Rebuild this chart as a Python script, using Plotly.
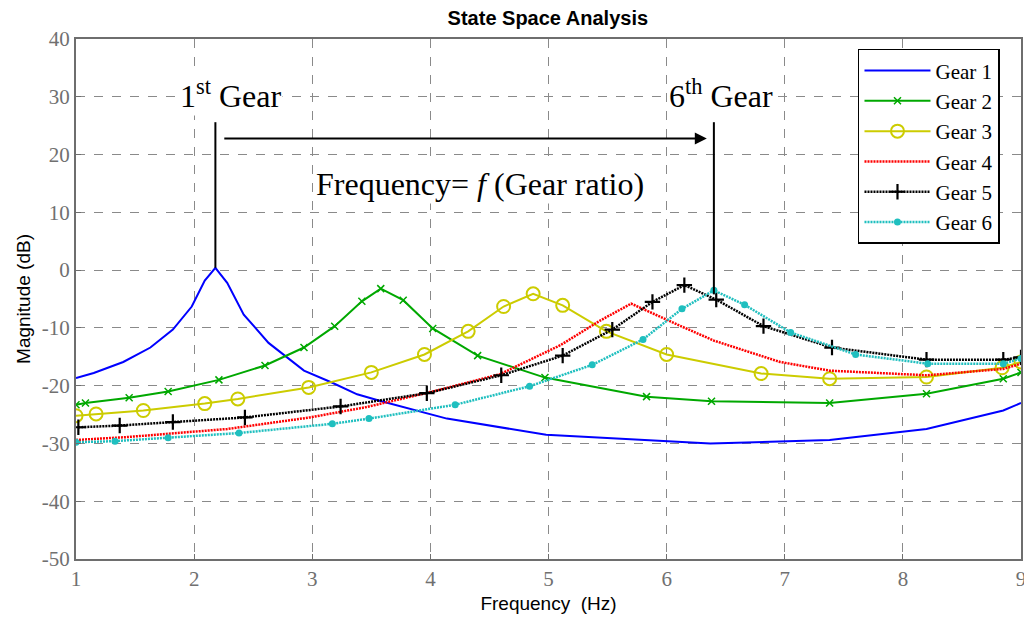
import plotly.graph_objects as go
import numpy as np

# ---- data ----
g1_x = [1.00, 1.15, 1.40, 1.63, 1.82, 1.98, 2.09, 2.18, 2.28, 2.42, 2.63, 2.93, 3.17, 3.38, 3.57, 4.14, 4.98, 5.97, 6.37, 7.38, 8.20, 8.85, 9.00]
g1_y = [-18.7, -17.8, -15.9, -13.4, -10.3, -6.3, -1.8, 0.4, -2.2, -7.7, -12.6, -17.4, -19.5, -21.5, -22.6, -25.7, -28.5, -29.5, -30.0, -29.4, -27.5, -24.3, -23.0]

g2_x = [1.00, 1.08, 1.45, 1.78, 2.21, 2.60, 2.93, 3.19, 3.42, 3.58, 3.77, 4.02, 4.40, 4.97, 5.83, 6.38, 7.38, 8.20, 8.85, 9.00]
g2_y = [-23.3, -23.0, -22.1, -21.0, -19.0, -16.5, -13.4, -9.7, -5.4, -3.2, -5.2, -10.1, -14.8, -18.6, -21.9, -22.7, -23.0, -21.4, -18.8, -17.7]

g3_x = [1.00, 1.17, 1.57, 2.09, 2.37, 2.97, 3.50, 3.95, 4.32, 4.62, 4.87, 5.12, 5.49, 6.00, 6.80, 7.38, 8.20, 8.84, 9.00]
g3_y = [-25.2, -24.9, -24.3, -23.1, -22.3, -20.3, -17.7, -14.6, -10.6, -6.3, -4.1, -6.1, -10.6, -14.6, -17.9, -18.8, -18.5, -16.9, -15.9]

g4_x = [1.00, 1.43, 2.28, 2.98, 3.46, 4.00, 4.59, 5.10, 5.44, 5.70, 6.11, 6.40, 6.96, 7.38, 8.20, 8.85, 9.00]
g4_y = [-29.4, -28.9, -27.5, -25.5, -23.7, -21.1, -18.0, -13.0, -8.7, -5.8, -9.6, -12.2, -15.9, -17.4, -18.2, -17.1, -16.2]

g5_x = [1.02, 1.37, 1.82, 2.43, 3.24, 3.97, 4.60, 5.12, 5.54, 5.88, 6.15, 6.42, 6.82, 7.40, 8.20, 8.85, 9.00]
g5_y = [-27.2, -26.9, -26.3, -25.5, -23.6, -21.3, -18.2, -14.8, -10.3, -5.5, -2.6, -5.1, -9.7, -13.4, -15.5, -15.5, -15.1]

g6_x = [1.00, 1.33, 1.78, 2.38, 3.17, 3.48, 4.21, 4.84, 5.37, 5.80, 6.13, 6.40, 6.66, 7.05, 7.60, 8.21, 8.85, 9.00]
g6_y = [-29.8, -29.6, -29.0, -28.2, -26.6, -25.7, -23.3, -20.1, -16.4, -12.0, -6.7, -3.5, -6.0, -10.8, -14.6, -16.2, -16.2, -15.3]

names = ["Gear 1", "Gear 2", "Gear 3", "Gear 4", "Gear 5", "Gear 6"]
x_ticks = [1, 2, 3, 4, 5, 6, 7, 8, 9]
y_ticks = [-50, -40, -30, -20, -10, 0, 10, 20, 30, 40]
x_tick_labels = ["1", "2", "3", "4", "5", "6", "7", "8", "9"]
y_tick_labels = ["-50", "-40", "-30", "-20", "-10", "0", "10", "20", "30", "40"]

serif = "Liberation Serif, Times New Roman, serif"
sans = "Liberation Sans, Arial, sans-serif"

fig = go.Figure()
fig.add_trace(go.Scatter(x=g1_x, y=g1_y, mode="lines", name=names[0],
                         line=dict(color="#0000ff", width=2)))
fig.add_trace(go.Scatter(x=g2_x, y=g2_y, mode="lines+markers", name=names[1],
                         line=dict(color="#00a800", width=2),
                         marker=dict(symbol="x-thin", size=7, line=dict(color="#00a800", width=1.5))))
fig.add_trace(go.Scatter(x=g3_x, y=g3_y, mode="lines+markers", name=names[2],
                         line=dict(color="#cccc00", width=2),
                         marker=dict(symbol="circle-open", size=13, color="#cccc00", line=dict(width=2))))
fig.add_trace(go.Scatter(x=g4_x, y=g4_y, mode="lines", name=names[3],
                         line=dict(color="#ff0000", width=2.5, dash="2px,1px")))
fig.add_trace(go.Scatter(x=g5_x, y=g5_y, mode="lines+markers", name=names[4],
                         line=dict(color="#000000", width=2.5, dash="2px,1px"),
                         marker=dict(symbol="cross-thin", size=11, line=dict(color="#000000", width=2.2))))
fig.add_trace(go.Scatter(x=g6_x, y=g6_y, mode="lines+markers", name=names[5],
                         line=dict(color="#1fbfbf", width=2.5, dash="2px,1px"),
                         marker=dict(symbol="circle", size=7, color="#1fbfbf")))

# annotation geometry derived from the peaks
p1 = g1_x[int(np.argmax(g1_y))]
p6 = g6_x[int(np.argmax(g6_y))]
p1y = max(g1_y)
p6y = max(g6_y)
top = 25.6
fig.add_shape(type="line", x0=p1, x1=p1, y0=p1y, y1=top, line=dict(color="black", width=2))
fig.add_shape(type="line", x0=p6, x1=p6, y0=p6y - 0.7, y1=top, line=dict(color="black", width=2))

fig.add_annotation(x=p6 - 0.06, y=22.8, ax=p1 + 0.05, ay=22.8, xref="x", yref="y",
                   axref="x", ayref="y", text=" ", showarrow=True, arrowhead=2,
                   arrowsize=1.2, arrowwidth=2, arrowcolor="black")
fig.add_annotation(x=(p1 + 0.13), y=30.5, text="1<sup>st</sup> Gear", showarrow=False,
                   font=dict(family=serif, size=32, color="black"), bgcolor="white")
fig.add_annotation(x=(p6 + 0.06), y=30.5, text="6<sup>th</sup> Gear", showarrow=False,
                   font=dict(family=serif, size=32, color="black"), bgcolor="white")
fig.add_annotation(x=4.42, y=14.9, text="Frequency= <i>f</i> (Gear ratio)", showarrow=False,
                   font=dict(family=serif, size=32, color="black"), bgcolor="white")

axis_common = dict(
    showgrid=True, gridcolor="#8a8a8a", gridwidth=1, griddash="dash",
    showline=True, linecolor="#6e6e6e", linewidth=2, mirror=True,
    ticks="inside", ticklen=5, tickcolor="#6e6e6e",
    tickfont=dict(family=serif, size=21, color="#707070"),
    zeroline=False, automargin=False, ticklabeloverflow="allow",
)

fig.update_layout(
    width=1024, height=619,
    margin=dict(l=76, r=3, t=39, b=60),
    paper_bgcolor="white", plot_bgcolor="white",
    title=dict(text="<b>State Space Analysis</b>", x=0.535, xanchor="center", y=0.971, yanchor="middle",
               font=dict(family=sans, size=20, color="black")),
    xaxis=dict(range=[1, 9], tickvals=x_ticks, ticktext=x_tick_labels,
               title=dict(text="Frequency\u00a0\u00a0(Hz)", font=dict(family=sans, size=19, color="black"), standoff=6),
               **axis_common),
    yaxis=dict(range=[-50, 40], tickvals=y_ticks, ticktext=y_tick_labels,
               title=dict(text="Magnitude (dB)", font=dict(family=sans, size=19, color="black"), standoff=6),
               **axis_common),
    legend=dict(x=0.8275, y=0.981, xanchor="left", yanchor="top",
                bgcolor="white", bordercolor="black", borderwidth=1.5,
                font=dict(family=serif, size=21, color="black"),
                itemwidth=66, tracegroupgap=0),
    showlegend=True,
)

fig.write_html("out.html")
